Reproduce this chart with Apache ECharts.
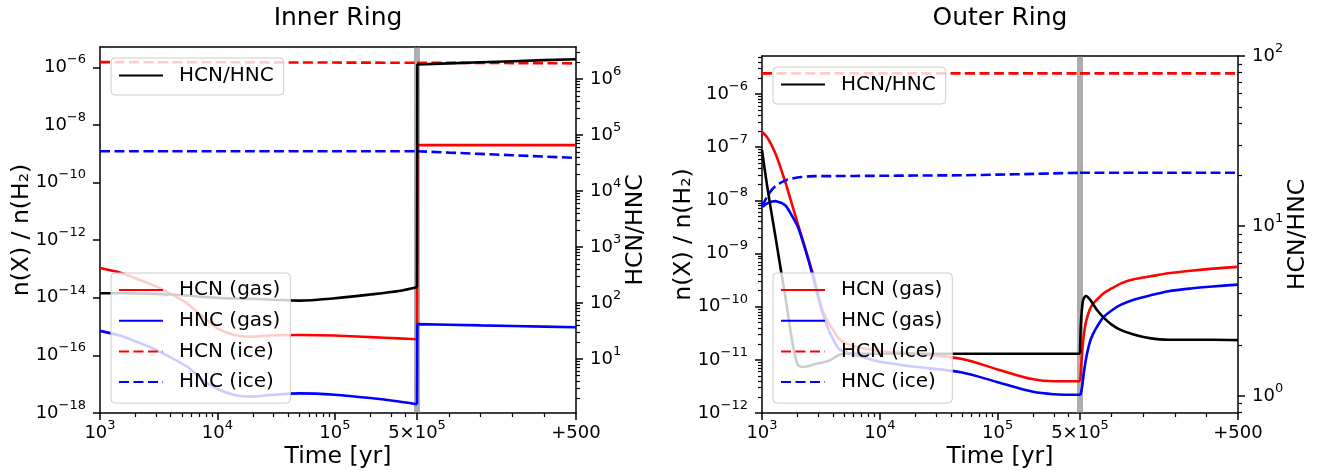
<!DOCTYPE html>
<html>
<head>
<meta charset="utf-8">
<title>HCN / HNC</title>
<script src="https://cdn.jsdelivr.net/npm/echarts@6.0.0/dist/echarts.min.js"></script>
<style>
html, body { margin:0; padding:0; background:#ffffff; }
#chart { width:1322px; height:476px; }
</style>
</head>
<body>
<div id="chart"></div>
<script>
// ================= DATA =================
const panelTitles = ['Inner Ring', 'Outer Ring'];
const xAxisTitle = 'Time [yr]';
const leftAxisTitle = 'n(X) / n(H₂)';
const rightAxisTitle = 'HCN/HNC';
const speciesNames = ['HCN (gas)', 'HNC (gas)', 'HCN (ice)', 'HNC (ice)'];
const ratioName = 'HCN/HNC';
const postTickLabel = '+500';

// x ticks: decades (10^n) on the log part, then the break and a linear +500 yr part
const xMajorExp = [3, 4, 5];
const xRange = [1000, 5e5];
const postSpan = 500;
const postMinorTicks = [100, 200, 300, 400];

// y ticks (exponents of 10)
const innerLeftMajorExp = [-18, -16, -14, -12, -10, -8, -6];
const innerRightMajorExp = [1, 2, 3, 4, 5, 6];
const outerLeftMajorExp = [-12, -11, -10, -9, -8, -7, -6];
const outerRightMajorExp = [0, 1, 2];

// axis ranges
const innerLeftRange = [1e-18, 5.1e-6];
const innerRightRange = [1.08, 3.73e6];
const outerLeftRange = [1e-12, 5.2e-6];
const outerRightRange = [0.794, 100];

// ---- Inner ring, 1e3 .. 5e5 yr ----
const innerPreTime   = [1000, 1500, 2000, 3000, 4000, 5500, 7500, 10000, 14000, 20000, 30000, 50000, 100000, 200000, 350000, 500000];
const innerPreHCNgas = [1.08e-13, 7.4e-14, 4.8e-14, 2.5e-14, 1.38e-14, 6.4e-15, 2.2e-15, 8.7e-16, 5.1e-16, 4.5e-16, 5.0e-16, 5.1e-16, 4.9e-16, 4.3e-16, 3.9e-16, 3.65e-16];
const innerPreHNCgas = [7.1e-16, 4.8e-16, 3.1e-16, 1.56e-16, 8.5e-17, 4.1e-17, 1.4e-17, 6.8e-18, 4.2e-18, 3.7e-18, 4.3e-18, 4.8e-18, 4.3e-18, 3.3e-18, 2.5e-18, 2.0e-18];
const innerPreHCNice = [1.52e-6, 1.52e-6, 1.52e-6, 1.51e-6, 1.51e-6, 1.51e-6, 1.50e-6, 1.50e-6, 1.50e-6, 1.49e-6, 1.49e-6, 1.48e-6, 1.47e-6, 1.46e-6, 1.45e-6, 1.45e-6];
const innerPreHNCice = [1.23e-9, 1.23e-9, 1.23e-9, 1.23e-9, 1.23e-9, 1.23e-9, 1.23e-9, 1.23e-9, 1.23e-9, 1.23e-9, 1.23e-9, 1.23e-9, 1.23e-9, 1.23e-9, 1.23e-9, 1.23e-9];
const innerPreRatio  = [149, 149, 148, 145, 141, 136, 128, 123, 120, 118, 114, 110, 121, 141, 163, 190];

// ---- Inner ring, +0 .. +500 yr after 5e5 yr ----
const innerPostTime   = [0, 1, 100, 200, 300, 400, 500];
const innerPostHCNgas = [3.65e-16, 2.0e-9, 2.0e-9, 2.0e-9, 2.0e-9, 2.0e-9, 2.0e-9];
const innerPostHNCgas = [2.0e-18, 1.22e-15, 1.16e-15, 1.10e-15, 1.05e-15, 1.0e-15, 0.95e-15];
const innerPostHCNice = [1.45e-6, 1.45e-6, 1.44e-6, 1.42e-6, 1.41e-6, 1.39e-6, 1.38e-6];
const innerPostHNCice = [1.23e-9, 1.23e-9, 1.10e-9, 0.99e-9, 0.89e-9, 0.80e-9, 0.72e-9];
const innerPostRatio  = [190, 1.82e6, 1.90e6, 1.99e6, 2.08e6, 2.17e6, 2.26e6];

// ---- Outer ring, 1e3 .. 5e5 yr ----
const outerPreTime   = [1000, 1100, 1200, 1300, 1400, 1500, 1600, 1800, 2000, 2200, 2500, 2800, 3200, 3600, 4000, 4500, 5000, 6000, 8000, 10000, 20000, 50000, 100000, 200000, 300000, 500000];
const outerPreHCNgas = [1.95e-7, 1.55e-7, 1.12e-7, 7.6e-8, 4.9e-8, 3.1e-8, 2.0e-8, 8.3e-9, 3.8e-9, 1.9e-9, 7.4e-10, 3.2e-10, 9.8e-11, 5.4e-11, 3.7e-11, 2.5e-11, 2.1e-11, 1.8e-11, 1.58e-11, 1.45e-11, 1.3e-11, 1.04e-11, 6.6e-12, 4.3e-12, 3.95e-12, 3.95e-12];
const outerPreHNCgas = [7.55e-9, 8.7e-9, 9.4e-9, 9.7e-9, 9.2e-9, 8.7e-9, 7.8e-9, 5.1e-9, 3.3e-9, 1.8e-9, 7.0e-10, 2.7e-10, 8.9e-11, 4.1e-11, 2.45e-11, 1.6e-11, 1.42e-11, 1.25e-11, 1.05e-11, 9.2e-12, 7.4e-12, 5.8e-12, 3.8e-12, 2.5e-12, 2.26e-12, 2.2e-12];
const outerPreHCNice = [2.45e-6, 2.45e-6, 2.45e-6, 2.45e-6, 2.45e-6, 2.45e-6, 2.45e-6, 2.45e-6, 2.45e-6, 2.45e-6, 2.45e-6, 2.45e-6, 2.45e-6, 2.45e-6, 2.45e-6, 2.45e-6, 2.45e-6, 2.45e-6, 2.45e-6, 2.45e-6, 2.45e-6, 2.45e-6, 2.45e-6, 2.45e-6, 2.45e-6, 2.45e-6];
const outerPreHNCice = [7.6e-9, 1.15e-8, 1.54e-8, 1.85e-8, 2.06e-8, 2.25e-8, 2.4e-8, 2.58e-8, 2.7e-8, 2.76e-8, 2.83e-8, 2.86e-8, 2.86e-8, 2.86e-8, 2.86e-8, 2.87e-8, 2.87e-8, 2.88e-8, 2.89e-8, 2.9e-8, 2.93e-8, 2.97e-8, 3.05e-8, 3.15e-8, 3.22e-8, 3.3e-8];
const outerPreRatio  = [27.9, 17.6, 12.1, 8.67, 6.33, 4.73, 3.62, 2.12, 1.54, 1.48, 1.50, 1.54, 1.57, 1.60, 1.66, 1.74, 1.77, 1.77, 1.77, 1.77, 1.77, 1.77, 1.77, 1.77, 1.77, 1.77];

// ---- Outer ring, +0 .. +500 yr after 5e5 yr ----
const outerPostTime   = [0, 2, 4, 7, 10, 15, 20, 30, 40, 55, 75, 100, 130, 170, 220, 280, 350, 420, 500];
const outerPostHCNgas = [3.95e-12, 5.1e-12, 8.2e-12, 1.45e-11, 2.3e-11, 3.9e-11, 5.5e-11, 8.6e-11, 1.11e-10, 1.38e-10, 1.79e-10, 2.2e-10, 2.75e-10, 3.28e-10, 3.7e-10, 4.25e-10, 4.75e-10, 5.2e-10, 5.6e-10];
const outerPostHNCgas = [2.2e-12, 2.25e-12, 2.55e-12, 3.2e-12, 4.5e-12, 7.5e-12, 1.12e-11, 2.05e-11, 2.95e-11, 4.3e-11, 6.4e-11, 8.5e-11, 1.09e-10, 1.35e-10, 1.62e-10, 1.95e-10, 2.2e-10, 2.4e-10, 2.6e-10];
const outerPostHCNice = [2.45e-6, 2.45e-6, 2.45e-6, 2.45e-6, 2.45e-6, 2.45e-6, 2.45e-6, 2.45e-6, 2.45e-6, 2.45e-6, 2.45e-6, 2.45e-6, 2.45e-6, 2.45e-6, 2.45e-6, 2.45e-6, 2.45e-6, 2.45e-6, 2.45e-6];
const outerPostHNCice = [3.3e-8, 3.3e-8, 3.3e-8, 3.3e-8, 3.3e-8, 3.3e-8, 3.3e-8, 3.3e-8, 3.3e-8, 3.3e-8, 3.3e-8, 3.3e-8, 3.3e-8, 3.3e-8, 3.3e-8, 3.3e-8, 3.3e-8, 3.3e-8, 3.3e-8];
const outerPostRatio  = [1.77, 2.46, 2.89, 3.36, 3.67, 3.83, 3.87, 3.72, 3.50, 3.18, 2.89, 2.63, 2.44, 2.30, 2.19, 2.14, 2.14, 2.14, 2.13];

// ================= CHART =================
const FONT = 'DejaVu Sans';
const RED = '#ff0000', BLUE = '#0000ff', BLACK = '#000000';
const LW = 2.6;
const DASH = [10, 4.5];
const MINUS = '\u2212';

function expText(e) { return e < 0 ? MINUS + (-e) : String(e); }
function logLabel(v) {
  const r = Math.round(v);
  if (Math.abs(v - r) < 1e-6) return '{b|10}{sup|' + expText(r) + '}';
  const e = Math.floor(v + 1e-9);
  const m = Math.round(Math.pow(10, v - e));
  return '{b|' + m + '\u00d710}{sup|' + expText(e) + '}';
}
function logMinors(lo, hi) {
  const out = [];
  for (let e = Math.floor(Math.log10(lo)); e <= Math.floor(Math.log10(hi)); e++) {
    for (let k = 2; k <= 9; k++) {
      const v = k * Math.pow(10, e);
      if (v > lo * 1.0001 && v < hi * 0.9999) out.push(Math.log10(v));
    }
  }
  return out;
}
const richX = {
  b:   { fontFamily: FONT, fontSize: 18, color: BLACK, padding: [5, 0, 0, 0], verticalAlign: 'bottom' },
  sup: { fontFamily: FONT, fontSize: 13, color: BLACK, verticalAlign: 'top' }
};
const richY = {
  b:   { fontFamily: FONT, fontSize: 18, color: BLACK, padding: [5, 0, 5, 0], verticalAlign: 'middle' },
  sup: { fontFamily: FONT, fontSize: 13, color: BLACK, verticalAlign: 'top' }
};

const grids = [], xAxes = [], yAxes = [], series = [], legends = [], titles = [];
const spineLine = { show: true, onZero: false, lineStyle: { color: BLACK, width: 1.5 } };
function addGrid(g) { grids.push(Object.assign({ show: false, containLabel: false, outerBoundsMode: 'none' }, g)); return grids.length - 1; }
function ax(gridIndex, extra) {
  return Object.assign({ gridIndex, splitLine: { show: false }, minorTick: { show: false },
    minorSplitLine: { show: false }, axisPointer: { show: false }, silent: true }, extra);
}
function addX(a) { xAxes.push(a); return xAxes.length - 1; }
function addY(a) { yAxes.push(a); return yAxes.length - 1; }
function tickAxis(gridIndex, type, min, max, position, ticks, len, width, labels, rich, margin, formatter) {
  return ax(gridIndex, {
    type, min, max, position,
    axisLine: { show: false, onZero: false },
    axisTick: { show: true, customValues: ticks, length: len, lineStyle: { color: BLACK, width } },
    axisLabel: labels ? { show: true, customValues: labels, formatter, margin, rich, color: BLACK } : { show: false }
  });
}
function mkSeries(name, times, vals, xi, yi, color, dashed, smooth, z) {
  return {
    type: 'line', name, xAxisIndex: xi, yAxisIndex: yi,
    data: times.map((t, i) => [t, vals[i]]),
    symbol: 'none', showSymbol: false, smooth, z, silent: true,
    lineStyle: { color, width: LW, type: dashed ? DASH : 'solid' },
    itemStyle: { color }, emphasis: { disabled: true }
  };
}

function buildPanel(P) {
  const gPre = addGrid(P.preBox), gPost = addGrid(P.postBox);
  const lx0 = Math.log10(xRange[0]), lx1 = Math.log10(xRange[1]);
  const xMaj = xMajorExp.concat([lx1]);
  // ---- x axes, log part
  const xPre = addX(ax(gPre, { type: 'log', logBase: 10, min: xRange[0], max: xRange[1], position: 'bottom',
    axisLine: spineLine, axisTick: { show: false }, axisLabel: { show: false } }));
  addX(tickAxis(gPre, 'value', lx0, lx1, 'bottom', xMaj, 7, 1.5, xMaj, richX, 6, logLabel));
  addX(tickAxis(gPre, 'value', lx0, lx1, 'bottom', logMinors(xRange[0], xRange[1]), 4, 1.2, null));
  addX(ax(gPre, { type: 'value', min: 0, max: 1, position: 'top', axisLine: spineLine, axisTick: { show: false }, axisLabel: { show: false } }));
  // ---- x axes, linear +500 part
  const xPost = addX(ax(gPost, { type: 'value', min: 0, max: postSpan, position: 'bottom', axisLine: spineLine,
    axisTick: { show: true, customValues: postMinorTicks, length: 4, lineStyle: { color: BLACK, width: 1.2 } },
    axisLabel: { show: false } }));
  addX(tickAxis(gPost, 'value', 0, postSpan, 'bottom', [postSpan], 7, 1.5, [postSpan], richX, 6, () => '{b|' + postTickLabel + '}'));
  addX(ax(gPost, { type: 'value', min: 0, max: 1, position: 'top', axisLine: spineLine, axisTick: { show: false }, axisLabel: { show: false } }));

  // ---- y axes
  const ll0 = Math.log10(P.left[0]), ll1 = Math.log10(P.left[1]);
  const lr0 = Math.log10(P.right[0]), lr1 = Math.log10(P.right[1]);
  const nameStyle = { fontFamily: FONT, fontSize: 23.5, color: BLACK };
  const yPreL = addY(ax(gPre, { type: 'log', min: P.left[0], max: P.left[1], position: 'left', axisLine: spineLine,
    axisTick: { show: false }, axisLabel: { show: false },
    name: leftAxisTitle, nameLocation: 'middle', nameRotate: 90, nameGap: P.leftGap, nameTextStyle: nameStyle }));
  addY(tickAxis(gPre, 'value', ll0, ll1, 'left', P.leftMajor, 7, 1.5, P.leftMajor, richY, 14, logLabel));
  if (P.leftMinor) addY(tickAxis(gPre, 'value', ll0, ll1, 'left', logMinors(P.left[0], P.left[1]), 4, 1.2, null));
  const yPreR = addY(ax(gPre, { type: 'log', min: P.right[0], max: P.right[1], position: 'right', show: false, axisLine: { onZero: false } }));
  const yPostL = addY(ax(gPost, { type: 'log', min: P.left[0], max: P.left[1], position: 'left', show: false, axisLine: { onZero: false } }));
  const yPostR = addY(ax(gPost, { type: 'log', min: P.right[0], max: P.right[1], position: 'right', axisLine: spineLine,
    axisTick: { show: false }, axisLabel: { show: false },
    name: rightAxisTitle, nameLocation: 'middle', nameRotate: 90, nameGap: P.rightGap, nameTextStyle: nameStyle }));
  addY(tickAxis(gPost, 'value', lr0, lr1, 'right', P.rightMajor, 7, 1.5, P.rightMajor, richY, 14, logLabel));
  addY(tickAxis(gPost, 'value', lr0, lr1, 'right', logMinors(P.right[0], P.right[1]), 4, 1.2, null));

  // ---- series
  const styles = [[RED, false], [BLUE, false], [RED, true], [BLUE, true]];
  P.pre.forEach((vals, i) => series.push(mkSeries(speciesNames[i], P.preTime, vals, xPre, yPreL, styles[i][0], styles[i][1], 0.3, 2)));
  series.push(mkSeries(ratioName, P.preTime, P.preRatio, xPre, yPreR, BLACK, false, 0.3, 3));
  P.post.forEach((vals, i) => {
    const s = mkSeries(speciesNames[i], P.postTime, vals, xPost, yPostL, styles[i][0], styles[i][1], P.postSmooth, 2);
    if (i === 2) {
      s.clip = false;
      s.markLine = { silent: true, z: 1, symbol: ['none', 'none'], label: { show: false }, emphasis: { disabled: true },
        lineStyle: { color: 'rgba(120,120,120,0.6)', width: 6, type: 'solid' }, data: [{ xAxis: 0 }] };
    }
    series.push(s);
  });
  series.push(mkSeries(ratioName, P.postTime, P.postRatio, xPost, yPostR, BLACK, false, P.postSmooth, 3));

  // ---- legends
  const legendCommon = {
    orient: 'vertical', itemWidth: 44, itemHeight: 20, selectedMode: false,
    itemStyle: { opacity: 0, borderWidth: 0 },
    backgroundColor: 'rgba(255,255,255,0.8)', borderColor: '#cccccc', borderWidth: 1, borderRadius: 4,
    textStyle: { fontFamily: FONT, fontSize: 20, color: BLACK, padding: [0, 0, 0, 11] }
  };
  legends.push(Object.assign({}, legendCommon, { data: [ratioName], left: P.legRatio[0], top: P.legRatio[1], padding: [7.5, 10, 9.5, 7] }));
  legends.push(Object.assign({}, legendCommon, { data: speciesNames, left: P.legSpecies[0], top: P.legSpecies[1], itemGap: 10.7, padding: [7, 10, 11, 7] }));

  // ---- titles
  titles.push({ text: P.title, left: P.centerX, top: 6, textAlign: 'center', padding: 0,
    textStyle: { fontFamily: FONT, fontSize: 25, fontWeight: 'normal', color: BLACK } });
  titles.push({ text: xAxisTitle, left: P.centerX, top: 445, textAlign: 'center', padding: 0,
    textStyle: { fontFamily: FONT, fontSize: 23.5, fontWeight: 'normal', color: BLACK } });
}

buildPanel({
  title: panelTitles[0], centerX: 338,
  preBox: { left: 100, top: 47, width: 317, height: 366 },
  postBox: { left: 417, top: 47, width: 159, height: 366 },
  left: innerLeftRange, right: innerRightRange,
  leftMajor: innerLeftMajorExp, leftMinor: false, rightMajor: innerRightMajorExp,
  leftGap: 66, rightGap: 48,
  preTime: innerPreTime, pre: [innerPreHCNgas, innerPreHNCgas, innerPreHCNice, innerPreHNCice], preRatio: innerPreRatio,
  postTime: innerPostTime, post: [innerPostHCNgas, innerPostHNCgas, innerPostHCNice, innerPostHNCice], postRatio: innerPostRatio,
  postSmooth: false,
  legRatio: [111, 58], legSpecies: [111, 273]
});
buildPanel({
  title: panelTitles[1], centerX: 1000,
  preBox: { left: 762, top: 56, width: 318, height: 357 },
  postBox: { left: 1080, top: 56, width: 158, height: 357 },
  left: outerLeftRange, right: outerRightRange,
  leftMajor: outerLeftMajorExp, leftMinor: true, rightMajor: outerRightMajorExp,
  leftGap: 66, rightGap: 48,
  preTime: outerPreTime, pre: [outerPreHCNgas, outerPreHNCgas, outerPreHCNice, outerPreHNCice], preRatio: outerPreRatio,
  postTime: outerPostTime, post: [outerPostHCNgas, outerPostHNCgas, outerPostHCNice, outerPostHNCice], postRatio: outerPostRatio,
  postSmooth: 0.3,
  legRatio: [773, 67], legSpecies: [773, 273]
});

const chart = echarts.init(document.getElementById('chart'), null, { renderer: 'canvas' });
chart.setOption({
  animation: false,
  backgroundColor: '#ffffff',
  textStyle: { fontFamily: FONT },
  title: titles,
  grid: grids,
  xAxis: xAxes,
  yAxis: yAxes,
  legend: legends,
  tooltip: { show: false },
  series: series
});
</script>
</body>
</html>
